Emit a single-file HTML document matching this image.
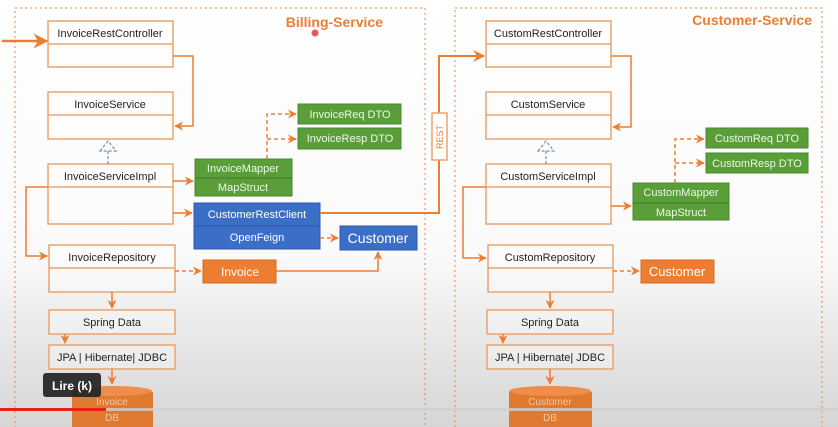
<!DOCTYPE html>
<html><head><meta charset="utf-8"><style>
html,body{margin:0;padding:0;width:838px;height:427px;overflow:hidden;background:#fff}
svg{display:block}
text{font-family:"Liberation Sans",sans-serif}
</style></head><body>
<svg width="838" height="427" viewBox="0 0 838 427" xmlns="http://www.w3.org/2000/svg">
<defs>
<linearGradient id="bg" x1="0" y1="0" x2="0" y2="1">
<stop offset="0" stop-color="#ffffff"/><stop offset="0.6" stop-color="#fafafa"/><stop offset="0.75" stop-color="#ececec"/><stop offset="1" stop-color="#d6d6d6"/>
</linearGradient>
<marker id="a" viewBox="0 0 10 10" refX="9" refY="5" markerWidth="6" markerHeight="6" orient="auto"><path d="M0,0 L10,5 L0,10 L3,5z" fill="#ed7d31"/></marker>
</defs>
<rect width="838" height="427" fill="url(#bg)"/>
<g fill="none" stroke="#e59a63" stroke-width="1.2" stroke-dasharray="2,3">
<rect x="15" y="8" width="410" height="430"/>
<rect x="455" y="8" width="367" height="430"/>
</g>
<text x="383" y="27" font-size="14" font-weight="bold" fill="#ed7d31" text-anchor="end">Billing-Service</text>
<circle cx="315" cy="33" r="3.5" fill="#e0303a" opacity="0.8"/>
<text x="812" y="25" font-size="14" font-weight="bold" fill="#ed7d31" text-anchor="end">Customer-Service</text>

<g fill="#fff" fill-opacity="0.3" stroke="#eaa36f" stroke-width="1.5">
<rect x="48" y="21" width="125" height="46"/><line x1="48" y1="44" x2="173" y2="44"/>
<rect x="48" y="92" width="125" height="47"/><line x1="48" y1="115" x2="173" y2="115"/>
<rect x="48" y="164" width="125" height="60"/><line x1="48" y1="187" x2="173" y2="187"/>
<rect x="49" y="245" width="126" height="47"/><line x1="49" y1="268" x2="175" y2="268"/>
<rect x="49" y="310" width="126" height="24"/>
<rect x="49" y="345" width="126" height="24"/>
<rect x="486" y="21" width="125" height="46"/><line x1="486" y1="44" x2="611" y2="44"/>
<rect x="486" y="92" width="125" height="47"/><line x1="486" y1="115" x2="611" y2="115"/>
<rect x="486" y="164" width="125" height="60"/><line x1="486" y1="187" x2="611" y2="187"/>
<rect x="488" y="245" width="125" height="47"/><line x1="488" y1="268" x2="613" y2="268"/>
<rect x="487" y="310" width="126" height="24"/>
<rect x="487" y="345" width="126" height="24"/>
</g>
<g font-size="11" fill="#222" text-anchor="middle">
<text x="110" y="37">InvoiceRestController</text>
<text x="110" y="108">InvoiceService</text>
<text x="110" y="180">InvoiceServiceImpl</text>
<text x="112" y="261">InvoiceRepository</text>
<text x="112" y="326">Spring Data</text>
<text x="112" y="361">JPA | Hibernate| JDBC</text>
<text x="548" y="37">CustomRestController</text>
<text x="548" y="108">CustomService</text>
<text x="548" y="180">CustomServiceImpl</text>
<text x="550" y="261">CustomRepository</text>
<text x="550" y="326">Spring Data</text>
<text x="550" y="361">JPA | Hibernate| JDBC</text>
</g>

<!-- green -->
<g fill="#5a9e3a" stroke="#4a8a2e">
<rect x="195" y="159" width="97" height="37"/>
<rect x="298" y="104" width="103" height="20"/>
<rect x="298" y="128" width="103" height="21"/>
<rect x="633" y="183" width="96" height="37"/>
<rect x="706" y="128" width="102" height="20"/>
<rect x="706" y="153" width="102" height="20"/>
</g>
<line x1="195" y1="178" x2="292" y2="178" stroke="#3f7a27"/>
<line x1="633" y1="203" x2="729" y2="203" stroke="#3f7a27"/>
<g font-size="11" fill="#eef7e8" text-anchor="middle">
<text x="243" y="172">InvoiceMapper</text><text x="243" y="191">MapStruct</text>
<text x="350" y="118">InvoiceReq DTO</text><text x="350" y="142">InvoiceResp DTO</text>
<text x="681" y="196">CustomMapper</text><text x="681" y="216">MapStruct</text>
<text x="757" y="142">CustomReq DTO</text><text x="757" y="167">CustomResp DTO</text>
</g>
<!-- blue -->
<rect x="194" y="203" width="126" height="46" fill="#3b6fc7" stroke="#2d5aa8"/>
<line x1="194" y1="226" x2="320" y2="226" stroke="#2d5aa8"/>
<rect x="340" y="226" width="77" height="24" fill="#3b6fc7" stroke="#2d5aa8"/>
<g fill="#fff" text-anchor="middle">
<text x="257" y="218" font-size="11">CustomerRestClient</text>
<text x="257" y="241" font-size="11">OpenFeign</text>
<text x="378" y="243" font-size="14">Customer</text>
</g>
<!-- orange -->
<rect x="203" y="260" width="73" height="23" fill="#ed7d31" stroke="#d86a20"/>
<text x="240" y="276" font-size="12" fill="#fff" text-anchor="middle">Invoice</text>
<rect x="641" y="260" width="73" height="23" fill="#ed7d31" stroke="#d86a20"/>
<text x="677" y="276" font-size="13" fill="#fff" text-anchor="middle">Customer</text>
<!-- DBs -->
<path d="M72,392 Q112,380 153,392 L153,430 L72,430Z" fill="#e07a30"/>
<ellipse cx="112" cy="391" rx="40" ry="5" fill="#ee8e4a"/>
<text x="112" y="405" font-size="10" fill="#f5c9a5" text-anchor="middle">Invoice</text>
<text x="112" y="421" font-size="10" fill="#f5c9a5" text-anchor="middle">DB</text>
<path d="M509,392 Q550,380 592,392 L592,430 L509,430Z" fill="#e07a30"/>
<ellipse cx="550" cy="391" rx="41" ry="5" fill="#ee8e4a"/>
<text x="550" y="405" font-size="10" fill="#f5c9a5" text-anchor="middle">Customer</text>
<text x="550" y="421" font-size="10" fill="#f5c9a5" text-anchor="middle">DB</text>

<!-- solid arrows -->
<g fill="none" stroke="#ed7d31" stroke-width="1.5" marker-end="url(#a)">
<path d="M2,41 L47,41" stroke-width="2.5"/>
<path d="M173,56 L193,56 L193,126 L175,126"/>
<path d="M173,181 L193,181"/>
<path d="M173,213 L192,213"/>
<path d="M48,187 L26,187 L26,256 L47,256"/>
<path d="M276,271 L378,271 L378,252"/>
<path d="M112,292 L112,308"/>
<path d="M65,334 L65,343"/>
<path d="M112,369 L112,384"/>
<path d="M320,213 L439,213 L439,56 L484,56" stroke-width="2"/>
<path d="M611,56 L631,56 L631,127 L613,127"/>
<path d="M611,206 L631,206"/>
<path d="M486,187 L463,187 L463,258 L486,258"/>
<path d="M550,292 L550,308"/>
<path d="M503,334 L503,343"/>
<path d="M550,369 L550,384"/>
</g>
<rect x="432" y="113" width="15" height="47" fill="#fff" stroke="#eaa36f" stroke-width="1.5"/>
<text transform="translate(443,137) rotate(-90)" font-size="9" fill="#ed7d31" text-anchor="middle">REST</text>
<g fill="none" stroke="#ed7d31" stroke-width="1.5" stroke-dasharray="4,3" marker-end="url(#a)">
<path d="M267,159 L267,114 L296,114"/>
<path d="M267,139 L296,139"/>
<path d="M320,238 L338,238"/>
<path d="M175,271 L201,271"/>
<path d="M675,183 L675,139 L704,139"/>
<path d="M675,163 L704,163"/>
<path d="M613,271 L639,271"/>
</g>
<!-- realization -->
<g fill="none" stroke="#7d8fa8" stroke-width="1.2" stroke-dasharray="3,2">
<path d="M108,164 L108,151"/><path d="M100,151 L108,141 L116,151Z"/>
<path d="M546,164 L546,151"/><path d="M538,151 L546,141 L554,151Z"/>
</g>
<!-- video overlay -->
<rect x="0" y="408" width="838" height="3" fill="#cfcfcf" opacity="0.8"/>
<rect x="0" y="408" width="106" height="3" fill="#e62117"/>
<rect x="43" y="373" width="58" height="24" rx="3" fill="#222" opacity="0.92"/>
<text x="72" y="390" font-size="12" font-weight="bold" fill="#fff" text-anchor="middle">Lire (k)</text>
</svg>
</body></html>
